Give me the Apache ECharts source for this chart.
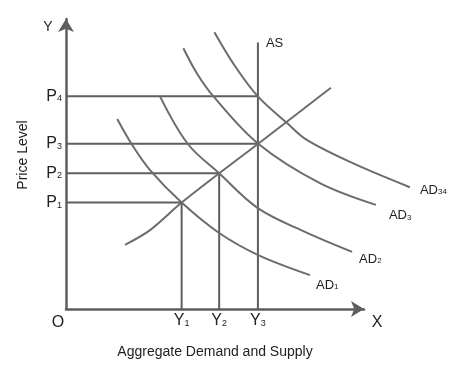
<!DOCTYPE html>
<html>
<head>
<meta charset="utf-8">
<style>
  html, body { margin: 0; padding: 0; background: #fff; }
  #chart { width: 474px; height: 378px; }
</style>
<script src="https://cdn.jsdelivr.net/npm/echarts@6/dist/echarts.min.js"></script>
</head>
<body>
<div id="chart"></div>
<script>
// price levels on the y axis and outputs on the x axis (0-100 scale)
var pLabels = ['1', '2', '3', '4'];
var pValues = [36.7, 46.8, 57.0, 73.4];
var pLineEnds = [38.8, 51.4, 64.4, 64.4];

var yLabels = ['1', '2', '3'];
var yValues = [38.8, 51.4, 64.4];
var yLineTops = [36.7, 46.8, 91.9];

// aggregate supply curve
var asCurve = [[19.8, 22.1], [28.2, 27.2], [38.8, 36.7], [51.4, 46.8], [64.5, 57.0], [88.9, 76.3]];

// aggregate demand curves
var ad1 = [[17.2, 65.5], [22.0, 56.9], [28.2, 47.9], [38.8, 36.7], [51.4, 26.2], [64.5, 18.6], [81.9, 11.7]];
var ad2 = [[31.5, 73.4], [40.9, 56.9], [51.4, 46.8], [64.5, 34.7], [80.2, 26.6], [96.0, 19.7]];
var ad3 = [[39.4, 89.9], [43.9, 81.3], [49.4, 73.4], [64.5, 57.0], [85.2, 43.4], [104.0, 35.9]];
var ad34 = [[49.8, 95.4], [56.1, 84.7], [64.3, 73.4], [74.1, 64.2], [80.8, 58.3], [96.4, 50.2], [115.4, 42.0]];

var adSubs = ['1', '2', '3', '34'];
var adData = [ad1, ad2, ad3, ad34];
var adLabelOffsets = [[6, 10], [7, 7.5], [13, 11], [10, 3]];

var font = "'Liberation Sans', Arial, sans-serif";
var lineColor = '#5e5e5e';
var curveColor = '#6c6c6c';
var textColor = '#222';

// the curves run past the end of the x axis, so they live in a second,
// wider grid on the same scale (2.98 px per unit)
var xMaxWide = 125;

var myChart = echarts.init(document.getElementById('chart'));

var subRich = {
    a: { fontSize: 16, fontFamily: font, color: textColor, verticalAlign: 'bottom' },
    b: { fontSize: 9, fontFamily: font, color: textColor, verticalAlign: 'bottom', padding: [0, 0, 1, 0] }
};
var adRich = {
    a: { fontSize: 13, fontFamily: font, color: textColor, verticalAlign: 'bottom' },
    b: { fontSize: 8, fontFamily: font, color: textColor, verticalAlign: 'bottom', padding: [0, 0, 1, 0] }
};

var series = [];

// horizontal guide lines from the price axis
pValues.forEach(function (p, i) {
    series.push({
        type: 'line', symbol: 'none', silent: true,
        lineStyle: { color: lineColor, width: 2 },
        data: [[0, p], [pLineEnds[i], p]]
    });
});

// vertical guide lines from the output axis (the last one is AS)
yValues.forEach(function (y, i) {
    series.push({
        type: 'line', symbol: 'none', silent: true,
        lineStyle: { color: lineColor, width: 2 },
        data: [[y, 0], [y, yLineTops[i]]],
        endLabel: i === yValues.length - 1 ? {
            show: true, formatter: 'AS', distance: 0, offset: [8, 0.5],
            fontSize: 13, fontFamily: font, color: textColor
        } : { show: false }
    });
});

series.push({
    type: 'line', symbol: 'none', smooth: 0.3, silent: true,
    xAxisIndex: 1, yAxisIndex: 1,
    lineStyle: { color: curveColor, width: 2 },
    data: asCurve
});

adData.forEach(function (d, i) {
    series.push({
        type: 'line', symbol: 'none', smooth: 0.35, silent: true,
        xAxisIndex: 1, yAxisIndex: 1,
        lineStyle: { color: curveColor, width: 2 },
        data: d,
        endLabel: {
            show: true, distance: 0, offset: adLabelOffsets[i],
            formatter: '{a|AD}{b|' + adSubs[i] + '}',
            rich: adRich
        }
    });
});

var hiddenAxis = {
    type: 'value', min: 0, max: 100, show: false,
    splitLine: { show: false }
};

var option = {
    animation: false,
    backgroundColor: '#fff',
    grid: [
        { left: 66, right: 110, top: 19, bottom: 69 },
        { left: 66, width: 2.98 * xMaxWide, top: 19, bottom: 69 }
    ],
    xAxis: [{
        type: 'value', min: 0, max: 100, gridIndex: 0,
        name: 'Aggregate Demand and Supply', nameLocation: 'middle', nameGap: 36,
        nameTextStyle: { fontSize: 14, fontFamily: font, color: textColor },
        axisLine: { lineStyle: { color: lineColor, width: 2.5 }, symbol: ['none', 'arrow'], symbolSize: [12, 13] },
        axisTick: { show: false },
        splitLine: { show: false },
        axisLabel: {
            customValues: yValues, margin: 4,
            formatter: function (v) {
                var i = yValues.indexOf(v);
                return '{a|Y}{b|' + yLabels[i] + '}';
            },
            rich: subRich
        }
    }, Object.assign({}, hiddenAxis, { gridIndex: 1, max: xMaxWide })],
    yAxis: [{
        type: 'value', min: 0, max: 100, gridIndex: 0,
        axisLine: { lineStyle: { color: lineColor, width: 2.5 }, symbol: ['none', 'arrow'], symbolSize: [12, 13] },
        axisTick: { show: false },
        splitLine: { show: false },
        axisLabel: {
            customValues: pValues, margin: 4,
            formatter: function (v) {
                var i = pValues.indexOf(v);
                return '{a|P}{b|' + pLabels[i] + '}';
            },
            rich: subRich
        }
    }, Object.assign({}, hiddenAxis, { gridIndex: 1 })],
    graphic: [
        { type: 'text', x: 23, y: 155, rotation: Math.PI / 2,
          style: { text: 'Price Level', font: '14px ' + font, fill: textColor, align: 'center', verticalAlign: 'middle' } },
        { type: 'text', x: 48, y: 27,
          style: { text: 'Y', font: '14px ' + font, fill: textColor, align: 'center', verticalAlign: 'middle' } },
        { type: 'text', x: 377, y: 323,
          style: { text: 'X', font: '16px ' + font, fill: textColor, align: 'center', verticalAlign: 'middle' } },
        { type: 'text', x: 58, y: 323,
          style: { text: 'O', font: '16px ' + font, fill: textColor, align: 'center', verticalAlign: 'middle' } }
    ],
    series: series
};

myChart.setOption(option);
</script>
</body>
</html>
